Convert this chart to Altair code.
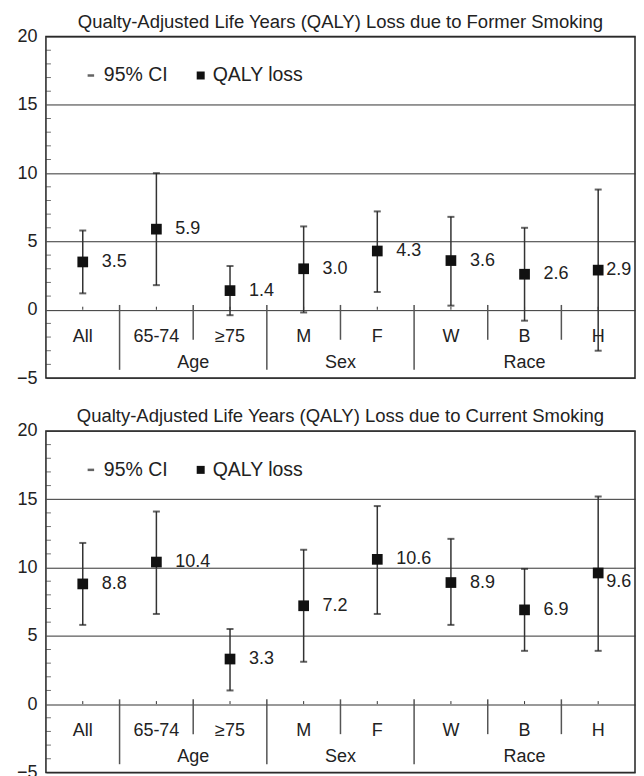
import altair as alt
import pandas as pd

# ---------------- data ----------------
categories = ["All", "65-74", "≥75", "M", "F", "W", "B", "H"]
group_of = ["", "Age", "Age", "Sex", "Sex", "Race", "Race", "Race"]
group_names = ["Age", "Sex", "Race"]

former_loss = [3.5, 5.9, 1.4, 3.0, 4.3, 3.6, 2.6, 2.9]
former_lo = [1.2, 1.8, -0.4, -0.2, 1.3, 0.3, -0.8, -3.0]
former_hi = [5.8, 10.0, 3.2, 6.1, 7.2, 6.8, 6.0, 8.8]

current_loss = [8.8, 10.4, 3.3, 7.2, 10.6, 8.9, 6.9, 9.6]
current_lo = [5.8, 6.6, 1.0, 3.1, 6.6, 5.8, 3.9, 3.9]
current_hi = [11.8, 14.1, 5.5, 11.3, 14.5, 12.1, 9.9, 15.2]

y_major = [-5, 0, 5, 10, 15, 20]
y_minor = [v for v in range(-5, 21) if v % 5 != 0]

legend_labels = ["95% CI", "QALY loss"]

titles = [
    "Qualty-Adjusted Life Years (QALY) Loss due to Former Smoking",
    "Qualty-Adjusted Life Years (QALY) Loss due to Current Smoking",
]

FONT = "Liberation Sans"
TXT = "#222222"
LINE = "#333333"
W, H = 590, 342
PX = W / len(categories)
CAT_Y = -2.0
GRP_Y = -3.9
LEG_Y = 17.15
TICK_UP = 0.22
SQUEEZED = "H"   # last category: value label sits closer to its marker


def xs():
    return alt.Scale(domain=[-0.5, len(categories) - 0.5], nice=False, zero=False)


def ys():
    return alt.Scale(domain=[-5, 20], nice=False, zero=False)


def px2x(p):
    return -0.5 + p / PX


def panel(title, loss, lo, hi, h_dy):
    df = pd.DataFrame({
        "cat": categories,
        "idx": list(range(len(categories))),
        "loss": loss,
        "lo": lo,
        "hi": hi,
        "lab": [f"{v:.1f}" for v in loss],
    })
    df["zero"] = 0.0
    df["up"] = TICK_UP
    df["cy"] = CAT_Y
    base = alt.Chart(df)

    grid = base.mark_point(opacity=0).encode(
        x=alt.X("idx:Q", scale=xs(), axis=None),
        y=alt.Y("loss:Q", scale=ys(), title=None,
                axis=alt.Axis(values=y_major, grid=True, gridColor=LINE,
                              gridWidth=1, gridOpacity=1, ticks=False,
                              domain=False, labelPadding=9, format="d")),
    )

    minor = alt.Chart(pd.DataFrame({"v": y_minor})).transform_calculate(
        mx=str(px2x(2.5))).mark_tick(
        orient="horizontal", size=5, thickness=1, color=LINE).encode(
        x=alt.X("mx:Q"), y=alt.Y("v:Q"))

    seps = []
    for i in range(len(categories) - 1):
        long = group_of[i] != group_of[i + 1]
        seps.append({"b": i + 0.5, "y1": 0.35, "y2": -4.4 if long else -2.2})
    sep = alt.Chart(pd.DataFrame(seps)).mark_rule(
        color="#555555", strokeWidth=1.5).encode(
        x=alt.X("b:Q"), y=alt.Y("y1:Q"), y2="y2:Q")

    ctick = base.mark_rule(color=LINE, strokeWidth=1).encode(
        x="idx:Q", y="zero:Q", y2="up:Q")

    err = base.mark_rule(color=LINE, strokeWidth=1.5).encode(
        x="idx:Q", y="lo:Q", y2="hi:Q")
    cap_lo = base.mark_tick(orient="horizontal", size=7, thickness=2,
                            color="#222222").encode(x="idx:Q", y="lo:Q")
    cap_hi = base.mark_tick(orient="horizontal", size=7, thickness=2,
                            color="#222222").encode(x="idx:Q", y="hi:Q")
    sq = base.mark_square(size=115, color="#111111", opacity=1).encode(
        x="idx:Q", y="loss:Q")

    df_main = df[df["cat"] != SQUEEZED]
    df_sq = df[df["cat"] == SQUEEZED]
    lab_main = alt.Chart(df_main).mark_text(
        align="left", baseline="middle", dx=19, font=FONT, fontSize=18,
        color=TXT).encode(x="idx:Q", y="loss:Q", text="lab:N")
    lab_h = alt.Chart(df_sq).mark_text(
        align="left", baseline="middle", dx=8, dy=h_dy, font=FONT,
        fontSize=18, color=TXT).encode(x="idx:Q", y="loss:Q", text="lab:N")

    catlab = base.mark_text(baseline="middle", font=FONT, fontSize=18,
                            color=TXT).encode(x="idx:Q", y="cy:Q", text="cat:N")

    grows = []
    for g in group_names:
        ids = [i for i, gg in enumerate(group_of) if gg == g]
        grows.append({"g": g, "gx": sum(ids) / len(ids), "gy": GRP_Y})
    grp = alt.Chart(pd.DataFrame(grows)).mark_text(
        baseline="middle", font=FONT, fontSize=18, color=TXT).encode(
        x="gx:Q", y="gy:Q", text="g:N")

    leg_df = pd.DataFrame({
        "t": legend_labels,
        "mx": [px2x(45), px2x(155)],
        "tx": [px2x(58), px2x(167)],
        "ly": [LEG_Y, LEG_Y],
    })
    leg_text = alt.Chart(leg_df).mark_text(
        align="left", baseline="middle", font=FONT, fontSize=19.5,
        color=TXT).encode(x="tx:Q", y="ly:Q", text="t:N")
    leg_dash = alt.Chart(leg_df.iloc[[0]]).mark_tick(
        orient="horizontal", size=6.5, thickness=2.5, color="#222222").encode(
        x="mx:Q", y="ly:Q")
    leg_sq = alt.Chart(leg_df.iloc[[1]]).mark_square(
        size=64, color="#111111", opacity=1).encode(x="mx:Q", y="ly:Q")

    return alt.layer(
        grid, minor, sep, ctick, err, cap_lo, cap_hi, sq,
        lab_main, lab_h, catlab, grp, leg_text, leg_dash, leg_sq,
    ).properties(
        width=W, height=H,
        title=alt.TitleParams(title, font=FONT, fontSize=18.5,
                              fontWeight="normal", color=TXT, offset=-4,
                              frame="group"),
    )


chart = alt.vconcat(
    panel(titles[0], former_loss, former_lo, former_hi, 0),
    panel(titles[1], current_loss, current_lo, current_hi, 9),
    spacing=18,
).properties(
    padding={"left": 7, "top": 3, "right": 0, "bottom": 0},
).configure_view(
    stroke="#222222", strokeWidth=1.5,
).configure_axis(
    labelFont=FONT, labelFontSize=18, labelColor=TXT,
)

chart.save("out.html", embed_options={"renderer": "svg", "actions": False})
